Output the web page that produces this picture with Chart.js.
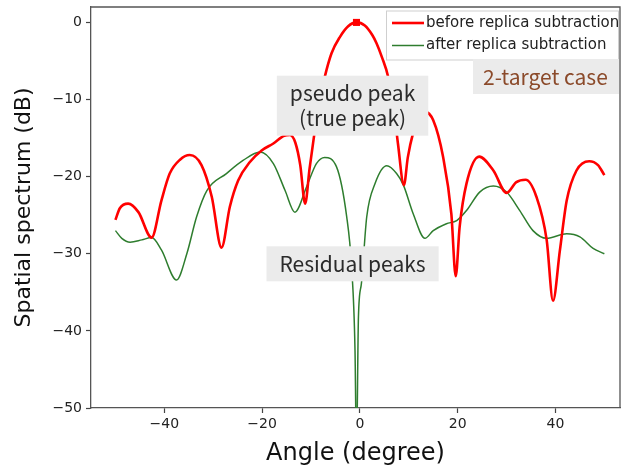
<!DOCTYPE html>
<html>
<head>
<meta charset="utf-8">
<script src="https://cdn.jsdelivr.net/npm/chart.js@4"></script>
<style>
  html, body { margin: 0; padding: 0; background: #fff; overflow: hidden; }
  #wrap { width: 621px; height: 468px; overflow: hidden; }
</style>
</head>
<body>
<div id="wrap"><canvas id="chart" width="640" height="468"></canvas></div>
<script>
// angle (degree) / spatial spectrum (dB)
const beforeAngle = [-50, -49.1, -47.4, -45.3, -42.6, -40.6, -38.9, -36.8, -34.8, -32.4, -30.3, -28.3, -26.6, -24.9, -22.5, -20.1,
  -17.7, -15.5, -14.3, -13.2, -12.2, -11.2, -10.3, -9.5, -8.5, -7.2, -5.8, -4.1, -2.4, -0.7,
  1.0, 2.5, 3.4, 4.5, 5.8, 7.0, 7.8, 9.0, 9.8, 10.9, 12.0, 13.3, 15.0, 17.0, 18.7, 19.6, 20.4, 21.8, 24.4, 27.3, 30.0,
  32.0, 33.9, 36.1, 38.2, 39.5, 40.9, 42.3, 44.3, 46.9, 48.7, 50];
const beforeDb = [-25.6, -24.1, -23.5, -24.6, -27.9, -23.1, -19.6, -17.8, -17.2, -18.5, -22.6, -29.2, -23.9, -20.5, -18.1, -16.6,
  -15.7, -14.7, -14.6, -15.6, -18.5, -23.5, -19.0, -15.3, -11.0, -7.1, -4.0, -1.9, -0.5, 0,
  -0.4, -1.6, -2.7, -4.5, -7.1, -11.5, -15.8, -21.1, -17.5, -14.3, -12.3, -11.6, -12.7, -17.4, -24.8, -32.9, -26.5, -20.9, -17.4, -19.2, -22.1,
  -20.7, -20.4, -22.6, -28.2, -36.1, -29.6, -23.1, -19.2, -18.0, -18.5, -19.8];

const afterAngle = [-50, -48.7, -47.0, -44.6, -42.6, -40.6, -37.5, -35.4, -33.4, -31.3, -27.3, -23.9, -20.4, -17.7, -15.3, -13.3,
  -10.9, -8.9, -7.2, -4.8, -2.7, -1.7, -1.0, -0.7, -0.3, 0.3, 1.4, 3.1, 5.5, 7.5, 8.9, 10.9, 13.3, 15.0, 17.7, 19.8,
  21.8, 24.5, 27.3, 30.0, 32.7, 35.4, 38.2, 42.3, 45.0, 47.7, 50];
const afterDb = [-27.0, -28.0, -28.5, -28.2, -27.9, -29.5, -33.4, -30.0, -25.2, -21.8, -19.6, -17.9, -16.8, -18.3, -21.8, -24.6,
  -21.3, -18.3, -17.5, -18.7, -25.2, -31.7, -42.5, -56, -38.2, -33.9, -25.2, -20.9, -18.6, -19.6, -21.1, -24.8, -28.0, -27.0, -26.1, -25.7,
  -24.4, -22.0, -21.2, -22.0, -24.4, -27.0, -28.0, -27.4, -27.8, -29.3, -30.0];

const peakAngle = [-0.7];
const peakDb = [0];

const xTicks = [-40, -20, 0, 20, 40];
const yTicks = [-50, -40, -30, -20, -10, 0];

const seriesLabels = ['before replica subtraction', 'after replica subtraction'];

// text boxes placed in data units: [text lines, center angle, center dB]
const notes = [
  { lines: ['pseudo peak', '(true peak)'], x: -1.5, y: -10.8 },
  { lines: ['Residual peaks'], x: -1.5, y: -31.3 }
];

const pts = (xs, ys) => xs.map((x, i) => ({ x: x, y: ys[i] }));
const minus = v => String(v).replace('-', '\u2212');

const boxPlugin = {
  id: 'boxes',
  beforeDatasetsDraw(chart) {
    const { ctx, chartArea: a } = chart;
    ctx.save();
    ctx.strokeStyle = '#555';
    ctx.lineWidth = 1.3;
    ctx.beginPath();
    ctx.moveTo(a.left, a.top);
    ctx.lineTo(a.right, a.top);
    ctx.lineTo(a.right, a.bottom);
    ctx.stroke();
    ctx.restore();
  },
  afterDatasetsDraw(chart) {
    const { ctx, chartArea: a, scales } = chart;
    ctx.save();
    // annotations
    ctx.font = '21px "Noto Sans CJK JP", "Noto Sans", sans-serif';
    ctx.textAlign = 'center';
    ctx.textBaseline = 'middle';
    notes.forEach(n => {
      const cx = scales.x.getPixelForValue(n.x);
      const cy = scales.y.getPixelForValue(n.y);
      const w = Math.max(...n.lines.map(l => ctx.measureText(l).width)) + 26;
      const lh = 25;
      const h = n.lines.length * lh + 10;
      ctx.fillStyle = '#ebebeb';
      ctx.fillRect(cx - w / 2, cy - h / 2, w, h);
      ctx.fillStyle = '#2b2b2b';
      n.lines.forEach((l, i) => ctx.fillText(l, cx, cy - h / 2 + 5 + lh * (i + 0.5)));
    });

    // legend
    const lx = a.right - 234, ly = a.top + 3.5, lw = 232, lh = 49;
    ctx.fillStyle = 'rgba(255,255,255,0.9)';
    ctx.fillRect(lx, ly, lw, lh);
    ctx.strokeStyle = '#cfcfcf';
    ctx.lineWidth = 1;
    ctx.strokeRect(lx + 0.5, ly + 0.5, lw, lh);
    ctx.font = '15px "DejaVu Sans", sans-serif';
    ctx.textAlign = 'left';
    chart.data.datasets.slice(0, 2).forEach((ds, i) => {
      const yy = ly + 12.5 + i * 22.5;
      ctx.strokeStyle = ds.borderColor;
      ctx.lineWidth = ds.borderWidth;
      ctx.beginPath();
      ctx.moveTo(lx + 6, yy);
      ctx.lineTo(lx + 38, yy);
      ctx.stroke();
      ctx.fillStyle = '#222';
      ctx.fillText(ds.label, lx + 40, yy);
    });

    // case label under the legend
    ctx.font = '21px "Noto Sans CJK JP", "Noto Sans", sans-serif';
    const tx = a.right - 147, ty = a.top + 52;
    ctx.fillStyle = '#ebebeb';
    ctx.fillRect(tx, ty, 146, 35);
    ctx.fillStyle = '#8b4a2a';
    ctx.fillText('2-target case', tx + 10, ty + 18);
    ctx.restore();
  }
};

new Chart(document.getElementById('chart'), {
  type: 'line',
  data: {
    datasets: [
      {
        label: seriesLabels[0],
        data: pts(beforeAngle, beforeDb),
        borderColor: '#ff0000',
        borderWidth: 2.6,
        pointRadius: 0,
        cubicInterpolationMode: 'monotone',
        order: 1
      },
      {
        label: seriesLabels[1],
        data: pts(afterAngle, afterDb),
        borderColor: '#2e7d2e',
        borderWidth: 1.5,
        pointRadius: 0,
        cubicInterpolationMode: 'monotone',
        order: 2
      },
      {
        label: 'peak',
        data: pts(peakAngle, peakDb),
        showLine: false,
        pointStyle: 'rect',
        pointRadius: 5,
        backgroundColor: '#ff0000',
        borderColor: '#ff0000',
        borderWidth: 0,
        order: 0
      }
    ]
  },
  options: {
    responsive: false,
    animation: false,
    devicePixelRatio: 1,
    layout: { padding: { top: 7, right: 20, left: 0, bottom: 0 } },
    plugins: { legend: { display: false }, tooltip: { enabled: false } },
    scales: {
      x: {
        type: 'linear',
        min: -55,
        max: 53.2,
        afterFit: s => { s.height = 60; s.paddingLeft = 0; s.paddingRight = 0; },
        afterBuildTicks: s => { s.ticks = xTicks.map(v => ({ value: v })); },
        grid: { drawOnChartArea: false, tickLength: 5, color: '#444', tickWidth: 1.2 },
        border: { color: '#555', width: 1.3 },
        ticks: { callback: minus, color: '#222', font: { family: 'DejaVu Sans', size: 14 }, padding: 3, maxRotation: 0 },
        title: { display: true, text: 'Angle (degree)', color: '#111', font: { family: 'DejaVu Sans', size: 24 }, padding: { top: 0, bottom: 0 } }
      },
      y: {
        min: -50,
        max: 2,
        afterFit: s => { s.width = 91; s.paddingTop = 0; s.paddingBottom = 0; },
        afterBuildTicks: s => { s.ticks = yTicks.map(v => ({ value: v })); },
        grid: { drawOnChartArea: false, tickLength: 5, color: '#444', tickWidth: 1.2 },
        border: { color: '#555', width: 1.3 },
        ticks: { callback: minus, color: '#222', font: { family: 'DejaVu Sans', size: 14 }, padding: 4 },
        title: { display: true, text: 'Spatial spectrum (dB)', color: '#111', font: { family: 'DejaVu Sans', size: 22 }, padding: { top: 11, bottom: 0 } }
      }
    }
  },
  plugins: [boxPlugin]
});
</script>
</body>
</html>
